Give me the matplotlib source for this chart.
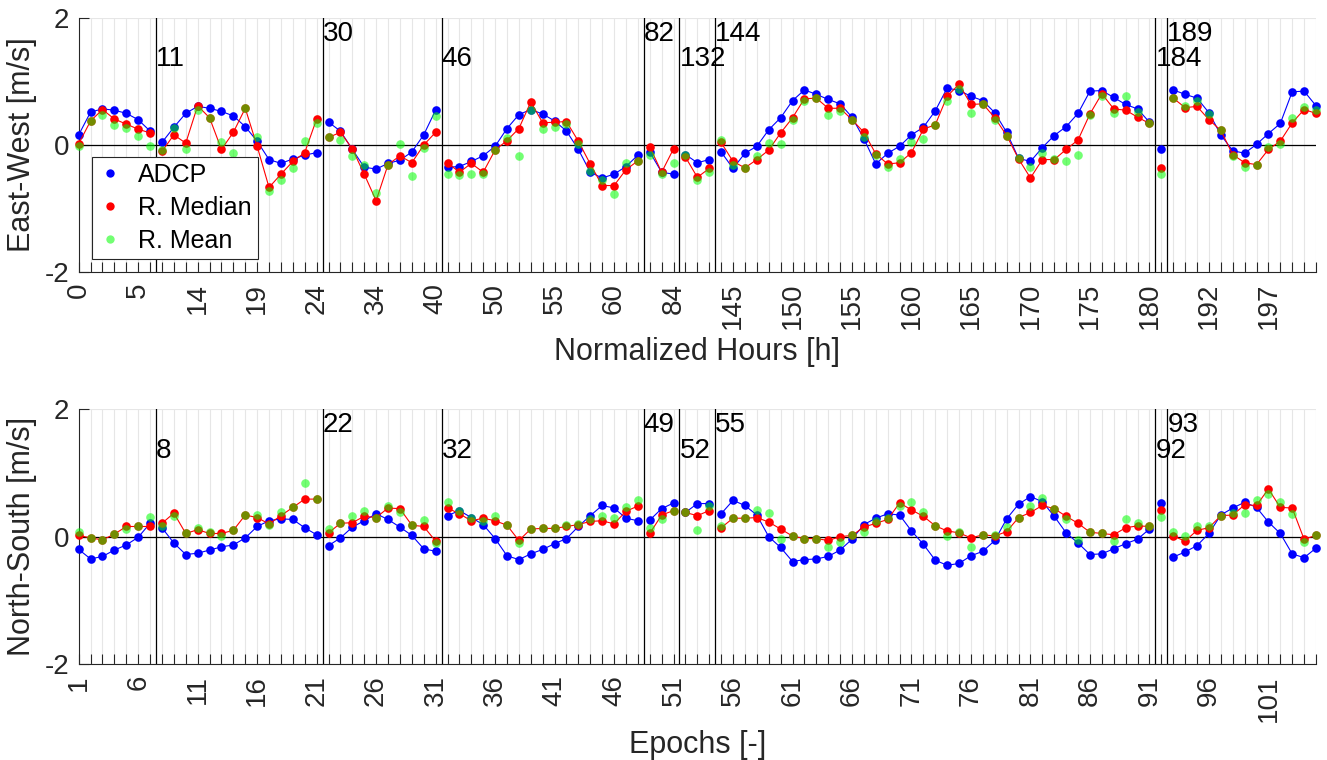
import numpy as np
import matplotlib
matplotlib.use('Agg')
import matplotlib.pyplot as plt
from matplotlib.lines import Line2D

plt.rcParams['font.family'] = ['Liberation Sans', 'DejaVu Sans']

epochs = np.arange(1, 106)

# first epoch of each continuous segment
seg_start = [1, 8, 22, 32, 49, 52, 55, 92, 93]
hour_marks = ['11', '30', '46', '82', '132', '144', '184', '189']
epoch_marks = ['8', '22', '32', '49', '52', '55', '92', '93']

hour_ticklabels = ['0', '5', '14', '19', '24', '34', '40', '50', '55', '60', '84',
                   '145', '150', '155', '160', '165', '170', '175', '180', '192', '197']
epoch_ticklabels = ['1', '6', '11', '16', '21', '26', '31', '36', '41', '46', '51',
                    '56', '61', '66', '71', '76', '81', '86', '91', '96', '101']

ew_adcp = [0.16, 0.52, 0.57, 0.55, 0.50, 0.40, 0.22,
           0.04, 0.28, 0.50, 0.61, 0.58, 0.53, 0.46, 0.29, 0.06, -0.23, -0.29, -0.22, -0.16, -0.12,
           0.36, 0.22, -0.07, -0.35, -0.38, -0.29, -0.24, -0.11, 0.16, 0.55,
           -0.35, -0.34, -0.26, -0.17, -0.02, 0.26, 0.48, 0.56, 0.49, 0.38, 0.22, -0.07, -0.43, -0.52, -0.46, -0.34, -0.16,
           -0.11, -0.43, -0.46,
           -0.15, -0.28, -0.23,
           -0.11, -0.37, -0.13, -0.02, 0.24, 0.43, 0.70, 0.87, 0.80, 0.72, 0.65, 0.44, 0.10, -0.30, -0.13, -0.02,
           0.16, 0.28, 0.54, 0.90, 0.86, 0.77, 0.70, 0.51, 0.20, -0.21, -0.26, -0.04, 0.15, 0.29, 0.50, 0.85,
           0.86, 0.75, 0.64, 0.57, 0.36,
           -0.06,
           0.87, 0.80, 0.74, 0.51, 0.16, -0.09, -0.13, 0.01, 0.18, 0.34, 0.84, 0.85, 0.62]
ew_median = [0.02, 0.38, 0.56, 0.41, 0.33, 0.25, 0.19,
             -0.10, 0.16, 0.03, 0.62, 0.43, -0.07, 0.20, 0.58, -0.02, -0.67, -0.46, -0.26, -0.12, 0.41,
             0.12, 0.20, -0.06, -0.46, -0.88, -0.31, -0.17, -0.28, 0.00, 0.20,
             -0.28, -0.43, -0.29, -0.43, -0.08, 0.07, 0.26, 0.68, 0.35, 0.36, 0.37, 0.06, -0.30, -0.64, -0.64, -0.39, -0.25,
             -0.03, -0.43, -0.06,
             -0.19, -0.51, -0.37,
             0.04, -0.26, -0.36, -0.23, -0.08, 0.19, 0.43, 0.73, 0.74, 0.58, 0.58, 0.40, 0.20, -0.14, -0.30, -0.28,
             -0.12, 0.25, 0.32, 0.77, 0.96, 0.64, 0.65, 0.43, 0.15, -0.22, -0.52, -0.23, -0.23, -0.07, 0.08, 0.49,
             0.81, 0.57, 0.55, 0.44, 0.34,
             -0.36,
             0.74, 0.59, 0.61, 0.40, 0.23, -0.15, -0.28, -0.31, -0.07, 0.06, 0.35, 0.56, 0.50]
ew_mean = [-0.01, 0.38, 0.48, 0.32, 0.27, 0.14, -0.02,
           -0.08, 0.27, -0.06, 0.55, 0.43, 0.04, -0.12, 0.58, 0.13, -0.72, -0.55, -0.37, 0.07, 0.35,
           0.13, 0.08, -0.18, -0.31, -0.76, -0.31, 0.01, -0.49, -0.04, 0.46,
           -0.46, -0.48, -0.46, -0.46, -0.08, 0.11, -0.17, 0.56, 0.25, 0.29, 0.33, 0.02, -0.41, -0.56, -0.77, -0.28, -0.25,
           -0.15, -0.45, -0.28,
           -0.15, -0.55, -0.43,
           0.08, -0.31, -0.37, -0.17, 0.03, 0.02, 0.39, 0.70, 0.74, 0.47, 0.54, 0.40, 0.12, -0.15, -0.34, -0.22,
           0.04, 0.10, 0.32, 0.70, 0.88, 0.51, 0.65, 0.40, 0.15, -0.20, -0.35, -0.13, -0.22, -0.25, -0.16, 0.47,
           0.77, 0.50, 0.77, 0.52, 0.34,
           -0.46,
           0.74, 0.62, 0.69, 0.49, 0.23, -0.18, -0.34, -0.31, -0.03, 0.02, 0.43, 0.60, 0.55]

ns_adcp = [-0.20, -0.35, -0.31, -0.21, -0.13, -0.01, 0.21,
           0.14, -0.10, -0.28, -0.26, -0.21, -0.16, -0.13, -0.02, 0.16, 0.25, 0.28, 0.27, 0.14, 0.03,
           -0.14, -0.02, 0.15, 0.25, 0.36, 0.27, 0.15, 0.02, -0.19, -0.23,
           0.33, 0.41, 0.30, 0.19, -0.03, -0.30, -0.36, -0.27, -0.20, -0.11, -0.03, 0.16, 0.33, 0.49, 0.45, 0.29, 0.25,
           0.26, 0.44, 0.53,
           0.38, 0.52, 0.52,
           0.36, 0.57, 0.49, 0.34, 0.00, -0.17, -0.39, -0.36, -0.35, -0.31, -0.21, -0.04, 0.19, 0.29, 0.36, 0.34,
           0.09, -0.12, -0.37, -0.45, -0.42, -0.30, -0.23, -0.06, 0.28, 0.51, 0.63, 0.55, 0.32, 0.06, -0.10, -0.28,
           -0.27, -0.19, -0.11, -0.04, 0.12,
           0.53,
           -0.32, -0.24, -0.14, 0.05, 0.34, 0.45, 0.54, 0.46, 0.23, 0.05, -0.27, -0.33, -0.18]
ns_median = [0.02, -0.02, -0.05, 0.04, 0.16, 0.16, 0.16,
             0.21, 0.37, 0.05, 0.11, 0.05, 0.05, 0.10, 0.34, 0.30, 0.20, 0.33, 0.46, 0.59, 0.59,
             0.06, 0.21, 0.22, 0.32, 0.30, 0.45, 0.44, 0.18, 0.16, -0.07,
             0.45, 0.36, 0.25, 0.29, 0.25, 0.18, -0.06, 0.12, 0.13, 0.13, 0.16, 0.19, 0.24, 0.25, 0.20, 0.40, 0.48,
             0.05, 0.34, 0.41,
             0.38, 0.33, 0.41,
             0.14, 0.29, 0.29, 0.30, 0.23, 0.12, 0.01, -0.03, -0.03, -0.06, 0.00, 0.02, 0.15, 0.21, 0.27, 0.53,
             0.42, 0.32, 0.17, 0.09, 0.06, -0.02, 0.03, 0.01, 0.08, 0.30, 0.38, 0.49, 0.44, 0.32, 0.21, 0.07,
             0.05, 0.03, 0.14, 0.17, 0.16,
             0.42,
             0.01, -0.07, 0.10, 0.14, 0.33, 0.34, 0.50, 0.49, 0.75, 0.46, 0.45, -0.04, 0.02]
ns_mean = [0.08, -0.02, -0.06, 0.04, 0.12, 0.16, 0.31,
           0.17, 0.33, 0.05, 0.13, 0.07, 0.01, 0.10, 0.34, 0.34, 0.18, 0.39, 0.46, 0.85, 0.59,
           0.12, 0.21, 0.32, 0.40, 0.30, 0.48, 0.39, 0.18, 0.26, -0.10,
           0.55, 0.40, 0.30, 0.25, 0.32, 0.18, -0.10, 0.12, 0.13, 0.13, 0.19, 0.20, 0.27, 0.32, 0.29, 0.46, 0.57,
           0.14, 0.28, 0.41,
           0.38, 0.10, 0.48,
           0.16, 0.29, 0.30, 0.42, 0.37, -0.03, 0.01, -0.03, -0.03, -0.17, -0.09, 0.03, 0.07, 0.24, 0.29, 0.48,
           0.55, 0.38, 0.17, 0.01, 0.07, -0.16, 0.03, 0.03, 0.15, 0.30, 0.48, 0.61, 0.44, 0.28, -0.06, 0.07,
           0.05, -0.07, 0.28, 0.21, 0.17,
           0.31,
           0.08, 0.01, 0.16, 0.17, 0.33, 0.37, 0.37, 0.58, 0.67, 0.54, 0.36, -0.09, 0.02]

AX_COL = (0.15, 0.15, 0.15)
GREEN = (0, 1, 0, 0.55)


def draw_panel(ax, adcp, median, mean, ylabel, xlabel, marks, ticklabels):
    adcp, median, mean = np.array(adcp), np.array(median), np.array(mean)
    ax.axhline(0, color='black', lw=0.9, zorder=1)

    bounds = seg_start + [len(epochs) + 1]
    for i in range(len(seg_start)):
        sl = slice(bounds[i] - 1, bounds[i + 1] - 1)
        x = epochs[sl]
        ax.plot(x, adcp[sl], '-o', color='blue', lw=0.8, ms=6.2, mec='none', clip_on=False, zorder=3)
        ax.plot(x, median[sl], '-o', color='red', lw=0.8, ms=6.2, mec='none', clip_on=False, zorder=4)
        ax.plot(x, mean[sl], 'o', color=GREEN, ms=6.2, mec='none', clip_on=False, zorder=5)

    for i, s in enumerate(seg_start[1:]):
        ax.axvline(s - 0.5, color='black', lw=0.9, zorder=2)
        yy = 1.24 if i % 2 == 0 else 1.64
        ax.text(s - 0.5, yy, marks[i], fontsize=20, ha='left', va='baseline', color='black')

    ax.set_xlim(1, 105)
    ax.set_ylim(-2, 2)
    ax.set_yticks([-2, 0, 2])
    ax.set_yticklabels(['-2', '0', '2'])
    ax.set_xticks(epochs)
    labels = [''] * len(epochs)
    for k, lab in enumerate(ticklabels):
        labels[k * 5] = lab
    ax.set_xticklabels(labels, rotation=90)

    ax.grid(True, color=(0.9, 0.9, 0.9), lw=0.8, zorder=0)
    ax.set_axisbelow(True)
    for side in ['top', 'right']:
        ax.spines[side].set_visible(False)
    for side in ['left', 'bottom']:
        ax.spines[side].set_color(AX_COL)
        ax.spines[side].set_linewidth(0.8)
    ax.tick_params(axis='both', direction='in', length=7.5, width=0.8, color=AX_COL,
                   labelcolor=AX_COL, labelsize=20)
    ax.tick_params(axis='x', pad=8)
    ax.tick_params(axis='y', pad=7)

    ax.set_ylabel(ylabel, fontsize=22, color=AX_COL, va='center')
    ax.yaxis.set_label_coords(-0.046, 0.5)
    ax.set_xlabel(xlabel, fontsize=22, color=AX_COL, va='center')
    ax.xaxis.set_label_coords(0.5, -0.317)


fig = plt.figure(figsize=(13.27, 7.6), dpi=100)
ax1 = fig.add_axes([0.0593, 0.6425, 0.9324, 0.3334])
ax2 = fig.add_axes([0.0593, 0.1263, 0.9324, 0.3351])

draw_panel(ax1, ew_adcp, ew_median, ew_mean, 'East-West [m/s]', 'Normalized Hours [h]',
           hour_marks, hour_ticklabels)
draw_panel(ax2, ns_adcp, ns_median, ns_mean, 'North-South [m/s]', 'Epochs [-]',
           epoch_marks, epoch_ticklabels)

handles = [Line2D([], [], ls='none', marker='o', ms=6, mec='none', color='blue'),
           Line2D([], [], ls='none', marker='o', ms=6, mec='none', color='red'),
           Line2D([], [], ls='none', marker='o', ms=6, mec='none', color=GREEN)]
leg = ax1.legend(handles, ['ADCP', 'R. Median', 'R. Mean'], loc='lower left',
                 bbox_to_anchor=(0.0105, 0.05), borderaxespad=0, fontsize=18,
                 fancybox=False, framealpha=1, edgecolor=AX_COL, numpoints=1,
                 handlelength=1.0, handletextpad=0.6, labelspacing=0.36, borderpad=0.25)
leg.get_frame().set_linewidth(0.8)
leg.set_zorder(10)

fig.savefig('out.png', dpi=100)
